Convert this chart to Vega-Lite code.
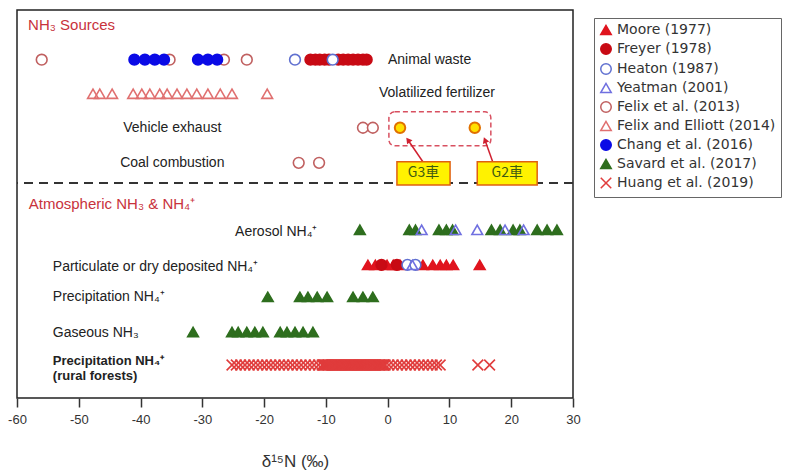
{
  "$schema": "https://vega.github.io/schema/vega-lite/v6.json",
  "width": 556,
  "height": 388,
  "autosize": {"type": "none"},
  "padding": {"left": 17, "top": 10, "right": 214, "bottom": 74},
  "background": "white",
  "config": {
    "font": "Liberation Sans",
    "view": {"stroke": "#222", "strokeWidth": 1.5}
  },
  "datasets": {
    "rows": [
      {"cat": "animal", "level": 9.94},
      {"cat": "volatil", "level": 8.94},
      {"cat": "vehicle", "level": 7.94},
      {"cat": "coal", "level": 6.91},
      {"cat": "aerosol", "level": 4.94},
      {"cat": "particulate", "level": 3.91},
      {"cat": "precip", "level": 2.97},
      {"cat": "gaseous", "level": 1.94},
      {"cat": "rural", "level": 0.97}
    ],
    "points": [
      {"study": "Felix et al. (2013)", "cat": "animal", "d15N": -56},
      {"study": "Felix et al. (2013)", "cat": "animal", "d15N": -35.3},
      {"study": "Felix et al. (2013)", "cat": "animal", "d15N": -26.5},
      {"study": "Felix et al. (2013)", "cat": "animal", "d15N": -22.8},
      {"study": "Chang et al. (2016)", "cat": "animal", "d15N": -41},
      {"study": "Chang et al. (2016)", "cat": "animal", "d15N": -39.3},
      {"study": "Chang et al. (2016)", "cat": "animal", "d15N": -37.7},
      {"study": "Chang et al. (2016)", "cat": "animal", "d15N": -36.2},
      {"study": "Chang et al. (2016)", "cat": "animal", "d15N": -30.7},
      {"study": "Chang et al. (2016)", "cat": "animal", "d15N": -29.1},
      {"study": "Chang et al. (2016)", "cat": "animal", "d15N": -27.6},
      {"study": "Freyer (1978)", "cat": "animal", "d15N": -12.5},
      {"study": "Freyer (1978)", "cat": "animal", "d15N": -11.7},
      {"study": "Freyer (1978)", "cat": "animal", "d15N": -11},
      {"study": "Freyer (1978)", "cat": "animal", "d15N": -10.2},
      {"study": "Freyer (1978)", "cat": "animal", "d15N": -9.5},
      {"study": "Freyer (1978)", "cat": "animal", "d15N": -8},
      {"study": "Freyer (1978)", "cat": "animal", "d15N": -7.2},
      {"study": "Freyer (1978)", "cat": "animal", "d15N": -6.4},
      {"study": "Freyer (1978)", "cat": "animal", "d15N": -5.6},
      {"study": "Freyer (1978)", "cat": "animal", "d15N": -4.8},
      {"study": "Freyer (1978)", "cat": "animal", "d15N": -4},
      {"study": "Freyer (1978)", "cat": "animal", "d15N": -3.4},
      {"study": "Heaton (1987)", "cat": "animal", "d15N": -15},
      {"study": "Heaton (1987)", "cat": "animal", "d15N": -8.9},
      {"study": "Felix and Elliott (2014)", "cat": "volatil", "d15N": -47.7},
      {"study": "Felix and Elliott (2014)", "cat": "volatil", "d15N": -46.6},
      {"study": "Felix and Elliott (2014)", "cat": "volatil", "d15N": -44.6},
      {"study": "Felix and Elliott (2014)", "cat": "volatil", "d15N": -41.2},
      {"study": "Felix and Elliott (2014)", "cat": "volatil", "d15N": -39.8},
      {"study": "Felix and Elliott (2014)", "cat": "volatil", "d15N": -38.5},
      {"study": "Felix and Elliott (2014)", "cat": "volatil", "d15N": -36.9},
      {"study": "Felix and Elliott (2014)", "cat": "volatil", "d15N": -35.7},
      {"study": "Felix and Elliott (2014)", "cat": "volatil", "d15N": -34.1},
      {"study": "Felix and Elliott (2014)", "cat": "volatil", "d15N": -32.5},
      {"study": "Felix and Elliott (2014)", "cat": "volatil", "d15N": -30.9},
      {"study": "Felix and Elliott (2014)", "cat": "volatil", "d15N": -29.1},
      {"study": "Felix and Elliott (2014)", "cat": "volatil", "d15N": -27.1},
      {"study": "Felix and Elliott (2014)", "cat": "volatil", "d15N": -25.2},
      {"study": "Felix and Elliott (2014)", "cat": "volatil", "d15N": -19.5},
      {"study": "Felix et al. (2013)", "cat": "vehicle", "d15N": -4},
      {"study": "Felix et al. (2013)", "cat": "vehicle", "d15N": -2.4},
      {"study": "Felix et al. (2013)", "cat": "coal", "d15N": -14.4},
      {"study": "Felix et al. (2013)", "cat": "coal", "d15N": -11.1},
      {"study": "Savard et al. (2017)", "cat": "aerosol", "d15N": -4.5},
      {"study": "Savard et al. (2017)", "cat": "aerosol", "d15N": 3.5},
      {"study": "Savard et al. (2017)", "cat": "aerosol", "d15N": 4.5},
      {"study": "Savard et al. (2017)", "cat": "aerosol", "d15N": 8.3},
      {"study": "Savard et al. (2017)", "cat": "aerosol", "d15N": 9.5},
      {"study": "Savard et al. (2017)", "cat": "aerosol", "d15N": 10.5},
      {"study": "Savard et al. (2017)", "cat": "aerosol", "d15N": 16.8},
      {"study": "Savard et al. (2017)", "cat": "aerosol", "d15N": 18.2},
      {"study": "Savard et al. (2017)", "cat": "aerosol", "d15N": 20.3},
      {"study": "Savard et al. (2017)", "cat": "aerosol", "d15N": 21.4},
      {"study": "Savard et al. (2017)", "cat": "aerosol", "d15N": 24.2},
      {"study": "Savard et al. (2017)", "cat": "aerosol", "d15N": 25.8},
      {"study": "Savard et al. (2017)", "cat": "aerosol", "d15N": 27.4},
      {"study": "Yeatman (2001)", "cat": "aerosol", "d15N": 5.5},
      {"study": "Yeatman (2001)", "cat": "aerosol", "d15N": 11},
      {"study": "Yeatman (2001)", "cat": "aerosol", "d15N": 14.5},
      {"study": "Yeatman (2001)", "cat": "aerosol", "d15N": 19},
      {"study": "Yeatman (2001)", "cat": "aerosol", "d15N": 22},
      {"study": "Moore (1977)", "cat": "particulate", "d15N": -3.2},
      {"study": "Moore (1977)", "cat": "particulate", "d15N": -2},
      {"study": "Moore (1977)", "cat": "particulate", "d15N": -0.1},
      {"study": "Moore (1977)", "cat": "particulate", "d15N": 0.9},
      {"study": "Moore (1977)", "cat": "particulate", "d15N": 2},
      {"study": "Moore (1977)", "cat": "particulate", "d15N": 5.7},
      {"study": "Moore (1977)", "cat": "particulate", "d15N": 7.3},
      {"study": "Moore (1977)", "cat": "particulate", "d15N": 8.5},
      {"study": "Moore (1977)", "cat": "particulate", "d15N": 9.5},
      {"study": "Moore (1977)", "cat": "particulate", "d15N": 10.6},
      {"study": "Moore (1977)", "cat": "particulate", "d15N": 14.9},
      {"study": "Freyer (1978)", "cat": "particulate", "d15N": -1},
      {"study": "Freyer (1978)", "cat": "particulate", "d15N": 1.5},
      {"study": "Heaton (1987)", "cat": "particulate", "d15N": 3.2},
      {"study": "Heaton (1987)", "cat": "particulate", "d15N": 4.5},
      {"study": "Yeatman (2001)", "cat": "particulate", "d15N": 4},
      {"study": "Savard et al. (2017)", "cat": "precip", "d15N": -19.4},
      {"study": "Savard et al. (2017)", "cat": "precip", "d15N": -14.2},
      {"study": "Savard et al. (2017)", "cat": "precip", "d15N": -12.9},
      {"study": "Savard et al. (2017)", "cat": "precip", "d15N": -11.4},
      {"study": "Savard et al. (2017)", "cat": "precip", "d15N": -9.8},
      {"study": "Savard et al. (2017)", "cat": "precip", "d15N": -5.6},
      {"study": "Savard et al. (2017)", "cat": "precip", "d15N": -4},
      {"study": "Savard et al. (2017)", "cat": "precip", "d15N": -2.4},
      {"study": "Savard et al. (2017)", "cat": "gaseous", "d15N": -31.5},
      {"study": "Savard et al. (2017)", "cat": "gaseous", "d15N": -25.2},
      {"study": "Savard et al. (2017)", "cat": "gaseous", "d15N": -24.2},
      {"study": "Savard et al. (2017)", "cat": "gaseous", "d15N": -22.8},
      {"study": "Savard et al. (2017)", "cat": "gaseous", "d15N": -21.5},
      {"study": "Savard et al. (2017)", "cat": "gaseous", "d15N": -20.2},
      {"study": "Savard et al. (2017)", "cat": "gaseous", "d15N": -17.4},
      {"study": "Savard et al. (2017)", "cat": "gaseous", "d15N": -16.3},
      {"study": "Savard et al. (2017)", "cat": "gaseous", "d15N": -15},
      {"study": "Savard et al. (2017)", "cat": "gaseous", "d15N": -13.7},
      {"study": "Savard et al. (2017)", "cat": "gaseous", "d15N": -12.1},
      {"study": "Huang et al. (2019)", "cat": "rural", "d15N": -25.2},
      {"study": "Huang et al. (2019)", "cat": "rural", "d15N": -24.5},
      {"study": "Huang et al. (2019)", "cat": "rural", "d15N": -23.8},
      {"study": "Huang et al. (2019)", "cat": "rural", "d15N": -23.1},
      {"study": "Huang et al. (2019)", "cat": "rural", "d15N": -22.4},
      {"study": "Huang et al. (2019)", "cat": "rural", "d15N": -21.7},
      {"study": "Huang et al. (2019)", "cat": "rural", "d15N": -21},
      {"study": "Huang et al. (2019)", "cat": "rural", "d15N": -20.3},
      {"study": "Huang et al. (2019)", "cat": "rural", "d15N": -19.6},
      {"study": "Huang et al. (2019)", "cat": "rural", "d15N": -18.9},
      {"study": "Huang et al. (2019)", "cat": "rural", "d15N": -18.2},
      {"study": "Huang et al. (2019)", "cat": "rural", "d15N": -17.5},
      {"study": "Huang et al. (2019)", "cat": "rural", "d15N": -16.8},
      {"study": "Huang et al. (2019)", "cat": "rural", "d15N": -16.1},
      {"study": "Huang et al. (2019)", "cat": "rural", "d15N": -15.4},
      {"study": "Huang et al. (2019)", "cat": "rural", "d15N": -14.7},
      {"study": "Huang et al. (2019)", "cat": "rural", "d15N": -14},
      {"study": "Huang et al. (2019)", "cat": "rural", "d15N": -13.3},
      {"study": "Huang et al. (2019)", "cat": "rural", "d15N": -12.6},
      {"study": "Huang et al. (2019)", "cat": "rural", "d15N": -11.9},
      {"study": "Huang et al. (2019)", "cat": "rural", "d15N": -11.2},
      {"study": "Huang et al. (2019)", "cat": "rural", "d15N": -10.6},
      {"study": "Huang et al. (2019)", "cat": "rural", "d15N": -10.45},
      {"study": "Huang et al. (2019)", "cat": "rural", "d15N": -10.3},
      {"study": "Huang et al. (2019)", "cat": "rural", "d15N": -10.15},
      {"study": "Huang et al. (2019)", "cat": "rural", "d15N": -10},
      {"study": "Huang et al. (2019)", "cat": "rural", "d15N": -9.85},
      {"study": "Huang et al. (2019)", "cat": "rural", "d15N": -9.7},
      {"study": "Huang et al. (2019)", "cat": "rural", "d15N": -9.55},
      {"study": "Huang et al. (2019)", "cat": "rural", "d15N": -9.4},
      {"study": "Huang et al. (2019)", "cat": "rural", "d15N": -9.25},
      {"study": "Huang et al. (2019)", "cat": "rural", "d15N": -9.1},
      {"study": "Huang et al. (2019)", "cat": "rural", "d15N": -8.95},
      {"study": "Huang et al. (2019)", "cat": "rural", "d15N": -8.8},
      {"study": "Huang et al. (2019)", "cat": "rural", "d15N": -8.65},
      {"study": "Huang et al. (2019)", "cat": "rural", "d15N": -8.5},
      {"study": "Huang et al. (2019)", "cat": "rural", "d15N": -8.35},
      {"study": "Huang et al. (2019)", "cat": "rural", "d15N": -8.2},
      {"study": "Huang et al. (2019)", "cat": "rural", "d15N": -8.05},
      {"study": "Huang et al. (2019)", "cat": "rural", "d15N": -7.9},
      {"study": "Huang et al. (2019)", "cat": "rural", "d15N": -7.75},
      {"study": "Huang et al. (2019)", "cat": "rural", "d15N": -7.6},
      {"study": "Huang et al. (2019)", "cat": "rural", "d15N": -7.45},
      {"study": "Huang et al. (2019)", "cat": "rural", "d15N": -7.3},
      {"study": "Huang et al. (2019)", "cat": "rural", "d15N": -7.15},
      {"study": "Huang et al. (2019)", "cat": "rural", "d15N": -7},
      {"study": "Huang et al. (2019)", "cat": "rural", "d15N": -6.85},
      {"study": "Huang et al. (2019)", "cat": "rural", "d15N": -6.7},
      {"study": "Huang et al. (2019)", "cat": "rural", "d15N": -6.55},
      {"study": "Huang et al. (2019)", "cat": "rural", "d15N": -6.4},
      {"study": "Huang et al. (2019)", "cat": "rural", "d15N": -6.25},
      {"study": "Huang et al. (2019)", "cat": "rural", "d15N": -6.1},
      {"study": "Huang et al. (2019)", "cat": "rural", "d15N": -5.95},
      {"study": "Huang et al. (2019)", "cat": "rural", "d15N": -5.8},
      {"study": "Huang et al. (2019)", "cat": "rural", "d15N": -5.65},
      {"study": "Huang et al. (2019)", "cat": "rural", "d15N": -5.5},
      {"study": "Huang et al. (2019)", "cat": "rural", "d15N": -5.35},
      {"study": "Huang et al. (2019)", "cat": "rural", "d15N": -5.2},
      {"study": "Huang et al. (2019)", "cat": "rural", "d15N": -5.05},
      {"study": "Huang et al. (2019)", "cat": "rural", "d15N": -4.9},
      {"study": "Huang et al. (2019)", "cat": "rural", "d15N": -4.75},
      {"study": "Huang et al. (2019)", "cat": "rural", "d15N": -4.6},
      {"study": "Huang et al. (2019)", "cat": "rural", "d15N": -4.45},
      {"study": "Huang et al. (2019)", "cat": "rural", "d15N": -4.3},
      {"study": "Huang et al. (2019)", "cat": "rural", "d15N": -4.15},
      {"study": "Huang et al. (2019)", "cat": "rural", "d15N": -4},
      {"study": "Huang et al. (2019)", "cat": "rural", "d15N": -3.85},
      {"study": "Huang et al. (2019)", "cat": "rural", "d15N": -3.7},
      {"study": "Huang et al. (2019)", "cat": "rural", "d15N": -3.55},
      {"study": "Huang et al. (2019)", "cat": "rural", "d15N": -3.4},
      {"study": "Huang et al. (2019)", "cat": "rural", "d15N": -3.25},
      {"study": "Huang et al. (2019)", "cat": "rural", "d15N": -3.1},
      {"study": "Huang et al. (2019)", "cat": "rural", "d15N": -2.95},
      {"study": "Huang et al. (2019)", "cat": "rural", "d15N": -2.8},
      {"study": "Huang et al. (2019)", "cat": "rural", "d15N": -2.65},
      {"study": "Huang et al. (2019)", "cat": "rural", "d15N": -2.5},
      {"study": "Huang et al. (2019)", "cat": "rural", "d15N": -2.35},
      {"study": "Huang et al. (2019)", "cat": "rural", "d15N": -2.2},
      {"study": "Huang et al. (2019)", "cat": "rural", "d15N": -2.05},
      {"study": "Huang et al. (2019)", "cat": "rural", "d15N": -1.9},
      {"study": "Huang et al. (2019)", "cat": "rural", "d15N": -1.75},
      {"study": "Huang et al. (2019)", "cat": "rural", "d15N": -1.6},
      {"study": "Huang et al. (2019)", "cat": "rural", "d15N": -1.45},
      {"study": "Huang et al. (2019)", "cat": "rural", "d15N": -1.3},
      {"study": "Huang et al. (2019)", "cat": "rural", "d15N": -1.15},
      {"study": "Huang et al. (2019)", "cat": "rural", "d15N": -1},
      {"study": "Huang et al. (2019)", "cat": "rural", "d15N": -0.85},
      {"study": "Huang et al. (2019)", "cat": "rural", "d15N": -0.7},
      {"study": "Huang et al. (2019)", "cat": "rural", "d15N": -0.55},
      {"study": "Huang et al. (2019)", "cat": "rural", "d15N": -0.4},
      {"study": "Huang et al. (2019)", "cat": "rural", "d15N": 0.2},
      {"study": "Huang et al. (2019)", "cat": "rural", "d15N": 0.9},
      {"study": "Huang et al. (2019)", "cat": "rural", "d15N": 1.6},
      {"study": "Huang et al. (2019)", "cat": "rural", "d15N": 2.3},
      {"study": "Huang et al. (2019)", "cat": "rural", "d15N": 3},
      {"study": "Huang et al. (2019)", "cat": "rural", "d15N": 3.7},
      {"study": "Huang et al. (2019)", "cat": "rural", "d15N": 4.4},
      {"study": "Huang et al. (2019)", "cat": "rural", "d15N": 5.1},
      {"study": "Huang et al. (2019)", "cat": "rural", "d15N": 5.8},
      {"study": "Huang et al. (2019)", "cat": "rural", "d15N": 6.5},
      {"study": "Huang et al. (2019)", "cat": "rural", "d15N": 7.2},
      {"study": "Huang et al. (2019)", "cat": "rural", "d15N": 7.9},
      {"study": "Huang et al. (2019)", "cat": "rural", "d15N": 8.5},
      {"study": "Huang et al. (2019)", "cat": "rural", "d15N": 14.6},
      {"study": "Huang et al. (2019)", "cat": "rural", "d15N": 16.5}
    ]
  },
  "layer": [
    {
      "data": {"values": [{"level": 6.32}]},
      "mark": {"type": "rule", "stroke": "#333", "strokeWidth": 2, "strokeDash": [9, 6]},
      "encoding": {
        "y": {"field": "level", "type": "quantitative", "scale": {"domain": [0, 11.4], "nice": false}, "axis": null}
      }
    },
    {
      "data": {"name": "points"},
      "transform": [{"lookup": "cat", "from": {"data": {"name": "rows"}, "key": "cat", "fields": ["level"]}}],
      "mark": {"type": "point", "opacity": 1, "strokeWidth": 1.6, "size": 115},
      "encoding": {
        "x": {
          "field": "d15N", "type": "quantitative", "title": "δ¹⁵N (‰)",
          "scale": {"domain": [-60, 30], "nice": false, "zero": false},
          "axis": {
            "values": [-60, -50, -40, -30, -20, -10, 0, 10, 20, 30],
            "labelExpr": "'' + datum.value",
            "labelFlush": false,
            "domain": false, "grid": false,
            "tickSize": 9, "tickOffset": 0, "tickWidth": 1.5, "tickColor": "#333",
            "labelFontSize": 13, "labelColor": "#333", "labelPadding": 6,
            "titleFontSize": 17, "titleFontWeight": "normal", "titleColor": "#333", "titlePadding": 27
          }
        },
        "y": {"field": "level", "type": "quantitative", "scale": {"domain": [0, 11.4], "nice": false}, "axis": null},
        "shape": {
          "field": "study", "type": "nominal",
          "scale": {
            "domain": ["Moore (1977)", "Freyer (1978)", "Heaton (1987)", "Yeatman (2001)", "Felix et al. (2013)", "Felix and Elliott (2014)", "Chang et al. (2016)", "Savard et al. (2017)", "Huang et al. (2019)"],
            "range": ["triangle-up", "circle", "circle", "triangle-up", "circle", "triangle-up", "circle", "triangle-up", "M-1,-1L1,1M-1,1L1,-1"]
          },
          "legend": {
            "title": null, "orient": "none", "legendX": 577, "legendY": 8,
            "strokeColor": "#666", "padding": 5, "labelFont": "DejaVu Sans", "labelFontSize": 14, "labelColor": "#333",
            "symbolSize": 110, "symbolStrokeWidth": 1.5, "rowPadding": 2, "labelLimit": 220
          }
        },
        "fill": {
          "field": "study", "type": "nominal",
          "scale": {
            "domain": ["Moore (1977)", "Freyer (1978)", "Heaton (1987)", "Yeatman (2001)", "Felix et al. (2013)", "Felix and Elliott (2014)", "Chang et al. (2016)", "Savard et al. (2017)", "Huang et al. (2019)"],
            "range": ["#e0141e", "#c80a14", "#ffffff", "transparent", "#ffffff", "transparent", "#0a0ae6", "#2e6e1e", "transparent"]
          },
          "legend": {
            "title": null, "orient": "none", "legendX": 577, "legendY": 8,
            "strokeColor": "#666", "padding": 5, "labelFont": "DejaVu Sans", "labelFontSize": 14, "labelColor": "#333",
            "symbolSize": 110, "symbolStrokeWidth": 1.5, "rowPadding": 2, "labelLimit": 220
          }
        },
        "stroke": {
          "field": "study", "type": "nominal",
          "scale": {
            "domain": ["Moore (1977)", "Freyer (1978)", "Heaton (1987)", "Yeatman (2001)", "Felix et al. (2013)", "Felix and Elliott (2014)", "Chang et al. (2016)", "Savard et al. (2017)", "Huang et al. (2019)"],
            "range": ["#e0141e", "#c80a14", "#6070d0", "#7070e0", "#c06060", "#e07070", "#0a0ae6", "#2e6e1e", "#e03c3c"]
          },
          "legend": {
            "title": null, "orient": "none", "legendX": 577, "legendY": 8,
            "strokeColor": "#666", "padding": 5, "labelFont": "DejaVu Sans", "labelFontSize": 14, "labelColor": "#333",
            "symbolSize": 110, "symbolStrokeWidth": 1.5, "rowPadding": 2, "labelLimit": 220
          }
        }
      }
    },
    {
      "data": {"values": [{"cat": "vehicle", "d15N": 2}, {"cat": "vehicle", "d15N": 14.1}]},
      "transform": [{"lookup": "cat", "from": {"data": {"name": "rows"}, "key": "cat", "fields": ["level"]}}],
      "mark": {"type": "point", "filled": true, "opacity": 1, "fill": "#ffe000", "stroke": "#e07000", "strokeWidth": 2, "size": 110},
      "encoding": {
        "x": {"field": "d15N", "type": "quantitative", "title": "δ¹⁵N (‰)"},
        "y": {"field": "level", "type": "quantitative"}
      }
    },
    {
      "data": {"values": [{"d15N": 0.2, "d15N_end": 16.7, "level": 8.41, "level_end": 7.41}]},
      "mark": {"type": "rect", "fill": null, "fillOpacity": 0, "stroke": "#d85060", "strokeWidth": 1.5, "strokeDash": [5, 3], "cornerRadius": 6},
      "encoding": {
        "x": {"field": "d15N", "type": "quantitative", "title": "δ¹⁵N (‰)"},
        "x2": {"field": "d15N_end"},
        "y": {"field": "level", "type": "quantitative"},
        "y2": {"field": "level_end"}
      }
    },
    {
      "data": {"values": [
        {"d15N": 5.7, "d15N_end": 3.4, "level": 6.94, "level_end": 7.55},
        {"d15N": 17.0, "d15N_end": 15.8, "level": 6.94, "level_end": 7.55}
      ]},
      "mark": {"type": "rule", "stroke": "#d02030", "strokeWidth": 1.5},
      "encoding": {
        "x": {"field": "d15N", "type": "quantitative", "title": "δ¹⁵N (‰)"},
        "x2": {"field": "d15N_end"},
        "y": {"field": "level", "type": "quantitative"},
        "y2": {"field": "level_end"}
      }
    },
    {
      "data": {"values": [{"d15N": 3.3, "level": 7.58}]},
      "mark": {"type": "point", "shape": "triangle-up", "filled": true, "opacity": 1, "fill": "#d02030", "stroke": null, "size": 45, "angle": 323},
      "encoding": {
        "x": {"field": "d15N", "type": "quantitative", "title": "δ¹⁵N (‰)"},
        "y": {"field": "level", "type": "quantitative"}
      }
    },
    {
      "data": {"values": [{"d15N": 15.75, "level": 7.58}]},
      "mark": {"type": "point", "shape": "triangle-up", "filled": true, "opacity": 1, "fill": "#d02030", "stroke": null, "size": 45, "angle": 338},
      "encoding": {
        "x": {"field": "d15N", "type": "quantitative", "title": "δ¹⁵N (‰)"},
        "y": {"field": "level", "type": "quantitative"}
      }
    },
    {
      "data": {"values": [
        {"d15N": 1.5, "d15N_end": 10.1, "level": 6.94, "level_end": 6.26},
        {"d15N": 14.5, "d15N_end": 24.2, "level": 6.94, "level_end": 6.26}
      ]},
      "mark": {"type": "rect", "fill": "#fff200", "stroke": "#e06010", "strokeWidth": 1.5},
      "encoding": {
        "x": {"field": "d15N", "type": "quantitative", "title": "δ¹⁵N (‰)"},
        "x2": {"field": "d15N_end"},
        "y": {"field": "level", "type": "quantitative"},
        "y2": {"field": "level_end"}
      }
    },
    {
      "data": {"values": [
        {"label": "G3車", "d15N": 5.8, "level": 6.6},
        {"label": "G2車", "d15N": 19.35, "level": 6.6}
      ]},
      "mark": {"type": "text", "font": "Noto Sans CJK JP", "fontSize": 14, "color": "#3f5a12", "align": "center", "baseline": "middle"},
      "encoding": {
        "x": {"field": "d15N", "type": "quantitative", "title": "δ¹⁵N (‰)"},
        "y": {"field": "level", "type": "quantitative"},
        "text": {"field": "label"}
      }
    },
    {
      "data": {"values": [
        {"label": "NH₃ Sources", "d15N": -58.2, "level": 10.97},
        {"label": "Atmospheric NH₃ & NH₄⁺", "d15N": -58.1, "level": 5.7}
      ]},
      "mark": {"type": "text", "fontSize": 15, "color": "#c8323c", "align": "left", "baseline": "middle"},
      "encoding": {
        "x": {"field": "d15N", "type": "quantitative", "title": "δ¹⁵N (‰)"},
        "y": {"field": "level", "type": "quantitative"},
        "text": {"field": "label"}
      }
    },
    {
      "data": {"values": [
        {"label": "Animal waste", "d15N": 0.05, "level": 9.94},
        {"label": "Volatilized fertilizer", "d15N": -1.4, "level": 8.97},
        {"label": "Vehicle exhaust", "d15N": -42.8, "level": 7.94},
        {"label": "Coal combustion", "d15N": -43.3, "level": 6.91},
        {"label": "Aerosol NH₄⁺", "d15N": -24.7, "level": 4.88},
        {"label": "Particulate or dry deposited NH₄⁺", "d15N": -54.2, "level": 3.85},
        {"label": "Precipitation NH₄⁺", "d15N": -54.2, "level": 2.97},
        {"label": "Gaseous NH₃", "d15N": -54.2, "level": 1.91}
      ]},
      "mark": {"type": "text", "fontSize": 14, "color": "#222", "align": "left", "baseline": "middle"},
      "encoding": {
        "x": {"field": "d15N", "type": "quantitative", "title": "δ¹⁵N (‰)"},
        "y": {"field": "level", "type": "quantitative"},
        "text": {"field": "label"}
      }
    },
    {
      "data": {"values": [
        {"label": "Precipitation NH₄⁺", "d15N": -54.2, "level": 1.1},
        {"label": "(rural forests)", "d15N": -54.2, "level": 0.66}
      ]},
      "mark": {"type": "text", "fontSize": 13, "fontWeight": "bold", "color": "#222", "align": "left", "baseline": "middle"},
      "encoding": {
        "x": {"field": "d15N", "type": "quantitative", "title": "δ¹⁵N (‰)"},
        "y": {"field": "level", "type": "quantitative"},
        "text": {"field": "label"}
      }
    }
  ]
}
